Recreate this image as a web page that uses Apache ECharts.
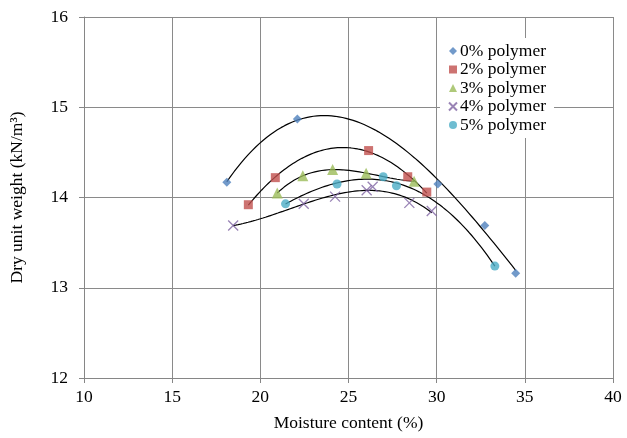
<!DOCTYPE html>
<html><head><meta charset="utf-8">
<script src="https://cdn.jsdelivr.net/npm/echarts@6/dist/echarts.min.js"></script>
<style>html,body{margin:0;padding:0;background:#fff}#c{width:627px;height:438px}</style>
</head><body><div id="c"></div>
<script>
// Data
const seriesNames = ['0% polymer', '2% polymer', '3% polymer', '4% polymer', '5% polymer'];
const p0 = [[18.1, 14.17], [22.1, 14.87], [30.07, 14.15], [32.73, 13.69], [34.48, 13.16]];
const p2 = [[19.32, 13.92], [20.85, 14.22], [26.14, 14.52], [28.36, 14.23], [29.44, 14.06]];
const p3 = [[20.96, 14.05], [22.41, 14.24], [24.1, 14.31], [26.0, 14.27], [28.72, 14.18]];
const p4 = [[18.46, 13.69], [22.46, 13.93], [24.24, 14.01], [26.03, 14.08], [26.37, 14.12], [28.45, 13.94], [29.72, 13.85]];
const p5 = [[21.43, 13.93], [24.35, 14.15], [26.97, 14.23], [27.72, 14.13], [33.3, 13.24]];
const trendOrders = [3, 2, 3, 3, 3];
const xTicks = [10, 15, 20, 25, 30, 35, 40];
const yTicks = [12, 13, 14, 15, 16];

const allData = [p0, p2, p3, p4, p5];
const colors = ['#4F81BD', '#C0504D', '#9BBB59', '#8064A2', '#4BACC6'];
const symbols = ['diamond', 'rect', 'triangle', 'path://M0,0L10,10M10,0L0,10', 'circle'];
const sizes = [9, 9, 11, 10, 9];

// polynomial trendline (least squares), as in a spreadsheet trendline
function polyfit(pts, deg) {
  const n = deg + 1;
  const A = Array.from({length: n}, () => new Array(n + 1).fill(0));
  pts.forEach(([x, y]) => {
    for (let i = 0; i < n; i++) {
      for (let j = 0; j < n; j++) A[i][j] += Math.pow(x, i + j);
      A[i][n] += y * Math.pow(x, i);
    }
  });
  for (let c = 0; c < n; c++) {
    let p = c;
    for (let r = c + 1; r < n; r++) if (Math.abs(A[r][c]) > Math.abs(A[p][c])) p = r;
    [A[c], A[p]] = [A[p], A[c]];
    for (let r = 0; r < n; r++) {
      if (r === c) continue;
      const f = A[r][c] / A[c][c];
      for (let k = c; k <= n; k++) A[r][k] -= f * A[c][k];
    }
  }
  return A.map((row, i) => row[n] / row[i]);
}
function trend(pts, deg) {
  const co = polyfit(pts, deg);
  const xs = pts.map(p => p[0]);
  const a = Math.min(...xs), b = Math.max(...xs);
  const out = [];
  for (let i = 0; i <= 80; i++) {
    const x = a + (b - a) * i / 80;
    let y = 0;
    co.forEach((c, k) => { y += c * Math.pow(x, k); });
    out.push([x, y]);
  }
  return out;
}

const font = 'Liberation Serif, Times New Roman, serif';
const series = [];
allData.forEach((d, i) => {
  series.push({
    type: 'line', data: trend(d, trendOrders[i]), showSymbol: false, silent: true,
    lineStyle: {color: '#000', width: 1.2}, itemStyle: {color: '#000'}, z: 2
  });
});
allData.forEach((d, i) => {
  series.push({
    name: seriesNames[i], type: 'scatter', data: d, symbol: symbols[i], symbolSize: sizes[i],
    itemStyle: i === 3 ? {color: colors[i], borderColor: colors[i], borderWidth: 1.3} : {color: colors[i]},
    z: 3
  });
});

const chart = echarts.init(document.getElementById('c'));
chart.setOption({
  animation: false,
  backgroundColor: '#fff',
  grid: {left: 82, right: 14, top: 17, bottom: 60},
  legend: {
    data: seriesNames, orient: 'vertical', left: 440, top: 38,
    padding: [4, 8, 4, 8], backgroundColor: '#fff',
    itemWidth: 8, itemHeight: 8, itemGap: 0.5,
    textStyle: {fontFamily: font, fontSize: 17.5, color: '#000', padding: [0, 0, 0, -2], lineHeight: 17.5}
  },
  xAxis: {
    type: 'value', min: xTicks[0], max: xTicks[xTicks.length - 1], interval: 5,
    name: 'Moisture content (%)', nameLocation: 'middle', nameGap: 36,
    nameTextStyle: {fontFamily: font, fontSize: 17.5, color: '#000'},
    axisLine: {lineStyle: {color: '#868686', width: 1}},
    axisTick: {show: true, inside: false, length: 5, lineStyle: {color: '#868686'}},
    axisLabel: {fontFamily: font, fontSize: 17.5, color: '#000', margin: 10},
    splitLine: {show: true, lineStyle: {color: '#8a8a8a', width: 1}}
  },
  yAxis: {
    type: 'value', min: yTicks[0], max: yTicks[yTicks.length - 1], interval: 1,
    name: 'Dry unit weight (kN/m³)', nameLocation: 'middle', nameGap: 58,
    nameTextStyle: {fontFamily: font, fontSize: 17.5, color: '#000'},
    axisLine: {show: true, lineStyle: {color: '#868686', width: 1}},
    axisTick: {show: true, inside: false, length: 5, lineStyle: {color: '#868686'}},
    axisLabel: {fontFamily: font, fontSize: 17.5, color: '#000', margin: 16},
    splitLine: {show: true, lineStyle: {color: '#8a8a8a', width: 1}}
  },
  series: series
});
</script></body></html>
